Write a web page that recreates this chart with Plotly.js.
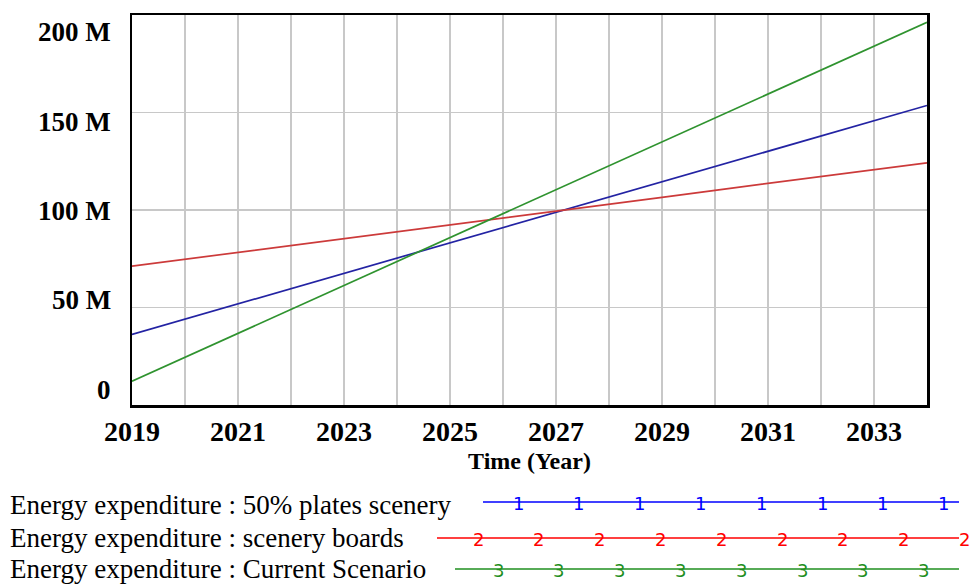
<!DOCTYPE html>
<html>
<head>
<meta charset="utf-8">
<script src="https://cdn.plot.ly/plotly-3.0.1.min.js"></script>
<style>html,body{margin:0;padding:0;background:#fff;}#chart{width:971px;height:585px;}</style>
</head>
<body>
<div id="chart"></div>
<script>
// ---- data (values in millions) ----
const years = [2019,2020,2021,2022,2023,2024,2025,2026,2027,2028,2029,2030,2031,2032,2033,2034];
const plates50 = [36.2,44.0,51.9,59.7,67.5,75.4,83.2,91.0,98.8,106.7,114.5,122.3,130.2,138.0,145.8,153.6];
const sceneryBoards = [71.2,74.7,78.3,81.8,85.3,88.9,92.4,95.9,99.5,103.0,106.5,110.1,113.6,117.1,120.7,124.2];
const currentScenario = [12.2,24.5,36.8,49.0,61.3,73.6,85.9,98.1,110.4,122.7,135.0,147.2,159.5,171.8,184.1,196.3];
const xTickText = ['2019','','2021','','2023','','2025','','2027','','2029','','2031','','2033',''];
const yTickVals = [0,50,100,150,200];
const yTickText = ['0','50 M','100 M','150 M','200 M'];
const seriesNames = ['Energy expenditure : 50% plates scenery','Energy expenditure : scenery boards','Energy expenditure : Current Scenario'];
const legendMarks = ['1','2','3'];

// ---- layout geometry (pixels) ----
const W=971,H=585, L=132, R=927, T=15, B=405;
const pw=R-L, ph=B-T;
const px = x => (x-L)/pw;
const py = y => (B-y)/ph;

const lineColors = ['#2323a3','#cc3a3a','#2f932f'];
const legColors = ['#0000ff','#ff0000','#1f8f1f'];

const traces = [plates50, sceneryBoards, currentScenario].map((v,i)=>({
  x: years, y: v, type:'scatter', mode:'lines', name: seriesNames[i],
  line:{color:lineColors[i], width:1.7}, showlegend:false, hoverinfo:'skip'
}));

const serif = '"Liberation Serif","Times New Roman",serif';
const annotations = [];
const shapes = [];

// y tick labels (spread as in reference)
yTickText.forEach((t,i)=>{
  const ypix = 389.5 - i*(389.5-32.5)/4;
  annotations.push({text:t, xref:'paper', yref:'paper', x:px(113), y:py(ypix),
    xanchor:'right', yanchor:'middle', showarrow:false,
    font:{family:serif, size:27, color:'#000', weight:'bold'}});
});

// legend
const rowY = [505, 538, 569];
const lineY = [502, 538, 569];
const lineStart = [483, 437, 455];
const markStart = [518, 478, 498];
const markCount = [8, 9, 8];
seriesNames.forEach((n,i)=>{
  annotations.push({text:n, xref:'paper', yref:'paper', x:px(8), y:py(rowY[i]),
    xanchor:'left', yanchor:'middle', showarrow:false,
    font:{family:serif, size:27, color:'#000'}});
  shapes.push({type:'line', xref:'paper', yref:'paper', x0:px(lineStart[i]), x1:px(959),
    y0:py(lineY[i]), y1:py(lineY[i]), line:{color:legColors[i], width:1.5}});
  for(let k=0;k<markCount[i];k++){
    annotations.push({text:legendMarks[i], xref:'paper', yref:'paper',
      x:px(markStart[i]+k*60.8), y:py(lineY[i]+1), xanchor:'center', yanchor:'middle',
      showarrow:false, font:{family:'"DejaVu Sans",Arial,sans-serif', size:18, color:legColors[i]}});
  }
});

const layout = {
  width:W, height:H,
  margin:{l:L, r:W-R, t:T, b:H-B, pad:0},
  paper_bgcolor:'#fff', plot_bgcolor:'#fff',
  showlegend:false,
  xaxis:{
    range:[2019,2034], tickvals:years, ticktext:xTickText,
    showgrid:true, gridcolor:'#c8c8c8', gridwidth:1.2,
    showline:true, mirror:true, linecolor:'#000', linewidth:2.5,
    ticks:'', zeroline:false, ticklabelstandoff:0,
    tickfont:{family:serif, size:28, color:'#000', weight:'bold'},
    title:{text:'Time (Year)', standoff:6, font:{family:serif, size:24, color:'#000', weight:'bold'}}
  },
  yaxis:{
    range:[0,200], tickvals:yTickVals, ticktext:yTickText, showticklabels:false,
    showgrid:true, gridcolor:'#c8c8c8', gridwidth:1.2,
    showline:true, mirror:true, linecolor:'#000', linewidth:2.5,
    ticks:'', zeroline:false
  },
  annotations, shapes
};

Plotly.newPlot('chart', traces, layout, {staticPlot:true, displayModeBar:false});
</script>
</body>
</html>
